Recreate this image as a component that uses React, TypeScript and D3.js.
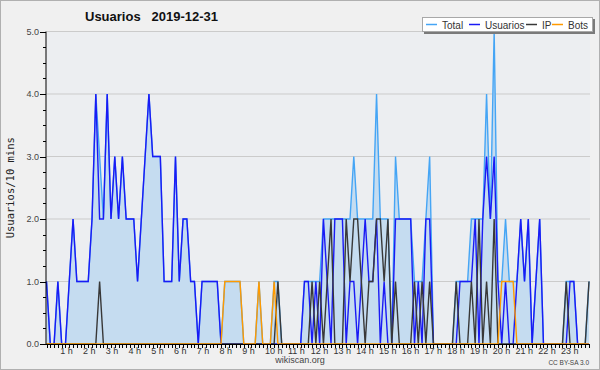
import React, { useEffect } from 'react';
import * as d3 from 'd3';

// 144 ten-minute slots (00:00 .. 23:50)
const usuarios = [
  1,0,0,1,0,0,1,2,1,1,
  1,1,2,4,2,2,4,2,3,2,
  3,2,2,2,1,2,3,4,3,3,
  3,1,1,1,3,1,2,2,1,1,
  0,1,1,1,1,1,0,0,0,0,
  0,0,0,0,0,0,0,0,0,0,
  0,0,0,0,0,0,0,0,1,1,
  0,1,0,2,1,0,2,2,2,0,
  1,1,0,1,2,1,1,2,0,1,
  0,0,2,2,2,2,2,0,1,0,
  2,2,0,0,0,0,0,0,0,1,
  1,1,1,2,0,2,3,2,3,1,
  0,1,0,0,1,2,1,2,0,1,
  2,0,0,0,0,0,0,0,1,1,
  0,0,0,0,
];

const ip = [
  0,0,0,0,0,0,0,0,0,0,
  0,0,0,0,1,0,0,0,0,0,
  0,0,0,0,0,0,0,0,0,0,
  0,0,0,0,0,0,0,0,0,0,
  0,0,0,0,0,0,0,0,0,0,
  0,0,0,0,0,0,0,0,0,0,
  0,1,0,0,0,0,0,0,0,0,
  1,0,1,0,1,2,0,0,0,2,
  1,2,2,1,0,1,1,2,2,1,
  2,0,1,0,0,0,0,1,0,1,
  0,1,0,0,0,0,0,0,1,0,
  0,0,1,0,2,0,1,0,2,0,
  0,0,0,0,0,0,0,0,0,0,
  0,0,0,0,0,0,0,1,0,0,
  0,0,0,1,
];

const bots = [
  0,0,0,0,0,0,0,0,0,0,
  0,0,0,0,0,0,0,0,0,0,
  0,0,0,0,0,0,0,0,0,0,
  0,0,0,0,0,0,0,0,0,0,
  0,0,0,0,0,0,0,1,1,1,
  1,1,0,0,0,0,1,0,0,0,
  1,0,0,0,0,0,0,0,0,0,
  0,0,0,0,0,0,0,0,0,0,
  0,0,0,0,0,0,0,0,0,0,
  0,0,0,0,0,0,0,0,0,0,
  0,0,0,0,0,0,0,0,0,0,
  0,0,0,0,0,0,0,0,0,0,
  1,1,1,1,0,0,0,0,0,0,
  0,0,0,0,0,0,0,0,0,0,
  0,0,0,0,
];

const total = [
  1,0,0,1,0,0,1,2,1,1,
  1,1,2,4,3,2,4,2,3,2,
  3,2,2,2,1,2,3,4,3,3,
  3,1,1,1,3,1,2,2,1,1,
  0,1,1,1,1,1,0,1,1,1,
  1,1,0,0,0,0,1,0,0,0,
  1,1,0,0,0,0,0,0,1,1,
  1,1,1,2,2,2,2,2,2,2,
  2,3,2,2,2,2,2,4,2,2,
  2,0,3,2,2,2,2,1,1,1,
  2,3,0,0,0,0,0,0,1,1,
  1,1,2,2,2,2,4,2,5,1,
  1,2,1,1,1,2,1,2,0,1,
  2,0,0,0,0,0,0,1,1,1,
  0,0,0,1,
];

const hourLabels = [
  '1 h','2 h','3 h','4 h','5 h','6 h','7 h','8 h','9 h','10 h','11 h','12 h',
  '13 h','14 h','15 h','16 h','17 h','18 h','19 h','20 h','21 h','22 h','23 h',
];
const yTickValues = [0, 1, 2, 3, 4, 5];
const seriesNames = ['Total', 'Usuarios', 'IP', 'Bots'];
const title = 'Usuarios   2019-12-31';
const yTitle = 'Usuarios/10 mins';

const COLORS: Record<string, string> = {
  Total: '#45a5f5',
  Usuarios: '#1a1af5',
  IP: '#383838',
  Bots: '#ff9a00',
};

export default function App() {
  useEffect(() => {
    document.body.style.margin = '0';
  }, []);

  const W = 600;
  const H = 370;
  const left = 46.5;
  const right = 589;
  const top = 31.5;
  const bottom = 344;

  const x = d3.scaleLinear().domain([0, total.length - 1]).range([left, right]);
  const y = d3.scaleLinear().domain([0, 5]).range([bottom, top]);

  const line = d3
    .line<number>()
    .x((_, i) => x(i))
    .y((d) => y(d));
  const area = d3
    .area<number>()
    .x((_, i) => x(i))
    .y0(y(0))
    .y1((d) => y(d));

  const seriesData: Record<string, number[]> = {
    Total: total,
    Usuarios: usuarios,
    IP: ip,
    Bots: bots,
  };

  const minorY = d3.range(0, 5.001, 0.25);
  const font = 'Liberation Sans, Arial, sans-serif';

  const legendX = [426, 469, 526, 552];

  return (
    <svg
      width={W}
      height={H}
      style={{ position: 'absolute', left: 0, top: 0, display: 'block' }}
      fontFamily={font}
    >
      <rect x={0.5} y={0.5} width={W - 1} height={H - 1} fill="#f0f0f0" stroke="#b0b0b0" />
      <rect x={left} y={top} width={right - left + 1} height={bottom - top} fill="#eceef1" />

      {/* grid */}
      {yTickValues.filter((v) => v > 0).map((v) => (
        <line key={'g' + v} x1={left} x2={right + 1} y1={y(v)} y2={y(v)} stroke="#cbcbcb" strokeWidth={1} />
      ))}

      {/* area */}
      <path d={area(total) || ''} fill="#c5dcf0" />

      {/* lines */}
      {seriesNames.map((n) => (
        <path
          key={n}
          d={line(seriesData[n]) || ''}
          fill="none"
          stroke={COLORS[n]}
          strokeWidth={1.4}
          strokeLinejoin="miter"
        />
      ))}

      {/* y axis */}
      <line x1={46} x2={46} y1={top} y2={bottom} stroke="#000" />
      {minorY.map((v) => {
        const major = Math.abs(v - Math.round(v)) < 1e-6;
        return (
          <line
            key={'yt' + v}
            x1={major ? 40 : 43}
            x2={46}
            y1={Math.round(y(v)) + 0.5}
            y2={Math.round(y(v)) + 0.5}
            stroke="#000"
          />
        );
      })}
      {yTickValues.map((v) => (
        <text key={'yl' + v} x={39} y={y(v) + 3} fontSize={9} textAnchor="end" fill="#444">
          {v.toFixed(1)}
        </text>
      ))}
      <text
        transform={`translate(14,${(top + bottom) / 2}) rotate(-90)`}
        textAnchor="middle"
        fontSize={10.5}
        fontFamily="DejaVu Sans Mono, monospace"
        fill="#222"
      >
        {yTitle}
      </text>

      {/* x axis */}
      <line x1={46} x2={right + 1} y1={344.5} y2={344.5} stroke="#000" />
      {total.map((_, i) => (
        <line
          key={'xt' + i}
          x1={Math.round(x(i)) + 0.5}
          x2={Math.round(x(i)) + 0.5}
          y1={344}
          y2={348}
          stroke="#000"
        />
      ))}
      {hourLabels.map((lab, h) => (
        <text key={lab} x={x((h + 1) * 6) - 9} y={353.5} fontSize={9} fill="#333">
          {lab}
        </text>
      ))}

      {/* title */}
      <text x={85} y={21} fontSize={13} fontWeight="bold" fill="#111" style={{ whiteSpace: 'pre' }}>
        {title}
      </text>

      {/* legend */}
      <rect x={424} y={19} width={171} height={15} fill="#7a7a7a" />
      <rect x={422.5} y={17.5} width={170} height={14} fill="#ffffff" stroke="#a8a8a8" />
      {seriesNames.map((n, k) => (
        <g key={'lg' + n}>
          <line x1={legendX[k]} x2={legendX[k] + 11} y1={24.5} y2={24.5} stroke={COLORS[n]} strokeWidth={1.5} />
          <text x={legendX[k] + 16} y={28.5} fontSize={10} fill="#333">
            {n}
          </text>
        </g>
      ))}

      {/* footer */}
      <text x={300} y={363} fontSize={9} textAnchor="middle" fill="#444">
        wikiscan.org
      </text>
      <text x={589} y={365} fontSize={6.5} textAnchor="end" fill="#444">
        CC BY-SA 3.0
      </text>
    </svg>
  );
}
